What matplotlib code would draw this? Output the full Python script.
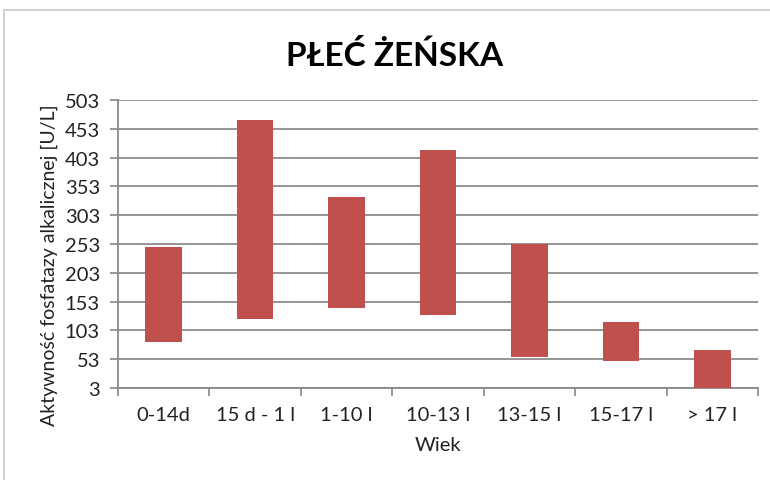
import matplotlib
matplotlib.use("Agg")
import matplotlib.pyplot as plt
from matplotlib.patches import Rectangle
import numpy as np

categories = ["0-14d", "15 d - 1 l", "1-10 l", "10-13 l", "13-15 l", "15-17 l", "> 17 l"]
low_values = [83, 123, 142, 129, 57, 50, 3]
high_values = [247, 468, 335, 416, 253, 117, 69]
y_ticks = [3, 53, 103, 153, 203, 253, 303, 353, 403, 453, 503]

plt.rcParams['font.family'] = ['Lato', 'DejaVu Sans']

fig = plt.figure(figsize=(7.7, 4.81), dpi=100)
ax = fig.add_axes([118/770, 1-389/481, (758-118)/770, (389-101)/481])

# outer chart frame
fig.patches.append(Rectangle((4/770, -0.1), 1.2, (481-11)/481 + 0.1, transform=fig.transFigure,
                             fill=False, edgecolor="#c8c8c8", linewidth=1.2))

x = np.arange(len(categories))
heights = [h - l for h, l in zip(high_values, low_values)]
ax.bar(x, heights, bottom=low_values, width=0.4, color="#c0504d", zorder=3)

ax.set_xlim(-0.5, len(categories) - 0.5)
ax.set_ylim(y_ticks[0], y_ticks[-1])
ax.set_yticks(y_ticks)
ax.set_yticklabels([str(v) for v in y_ticks], fontsize=14.5, color="#222222")
ax.set_xticks(x)
ax.set_xticklabels(categories, fontsize=14.5, color="#222222")
ax.tick_params(axis="x", length=0, pad=13)
ax.set_xticks(np.arange(-0.5, len(categories), 1.0), minor=True)
ax.tick_params(axis="x", which="minor", length=6, color="#888888", width=1.2, direction="out")
ax.tick_params(axis="y", length=6, color="#888888", width=1.2, direction="out", pad=7)

ax.grid(axis="y", color="#8c8c8c", linewidth=1.3, zorder=0)
for s in ["top", "right"]:
    ax.spines[s].set_visible(False)
for s in ["left", "bottom"]:
    ax.spines[s].set_color("#888888")
    ax.spines[s].set_linewidth(1.3)

ax.set_xlabel("Wiek", fontsize=14.5, color="#222222")
ax.xaxis.set_label_coords(0.5, -0.165)
ax.set_ylabel("Aktywność fosfatazy alkalicznej [U/L]", fontsize=14, color="#222222")
ax.yaxis.set_label_coords(-0.094, 0.43)
fig.text(395/770, 1-55/481, "PŁEĆ ŻEŃSKA", ha="center", va="center", fontsize=24, fontweight="bold", color="#000000")

fig.savefig("out.png", dpi=100)
